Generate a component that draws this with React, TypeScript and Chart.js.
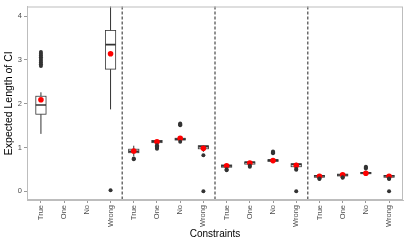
import React, { useEffect, useRef } from "react";
import { Chart, registerables } from "chart.js";

Chart.register(...registerables);

const groupLabels = ["True", "One", "No", "Wrong"];
const categories = [...groupLabels, ...groupLabels, ...groupLabels, ...groupLabels];

const q1 = [1.76, null, null, 2.79, 0.88, 1.11, 1.17, 0.97, 0.55, 0.62, 0.68, 0.56, 0.32, 0.35, 0.4, 0.32];
const medians = [1.97, null, null, 3.35, 0.91, 1.14, 1.19, 1.02, 0.58, 0.66, 0.71, 0.61, 0.35, 0.37, 0.42, 0.35];
const q3 = [2.17, null, null, 3.67, 0.96, 1.16, 1.21, 1.04, 0.6, 0.67, 0.72, 0.63, 0.36, 0.39, 0.43, 0.36];
const whiskerLow = [1.31, null, null, 1.87, 0.8, 1.08, 1.15, 0.9, 0.52, 0.59, 0.65, 0.53, 0.3, 0.33, 0.38, 0.3];
const whiskerHigh = [2.26, null, null, 4.9, 1.04, 1.17, 1.23, 1.05, 0.62, 0.69, 0.75, 0.65, 0.38, 0.41, 0.45, 0.37];
const means = [2.09, null, null, 3.14, 0.92, 1.13, 1.21, 0.98, 0.58, 0.645, 0.7, 0.59, 0.34, 0.375, 0.41, 0.34];
const outliers: number[][] = [
  [2.86, 2.9, 2.94, 2.98, 3.02, 3.06, 3.1, 3.14, 3.18],
  [],
  [],
  [0.02],
  [0.73, 0.75],
  [0.97, 0.99, 1.01, 1.03, 1.05],
  [1.51, 1.53, 1.55, 1.13],
  [0.82, 0.0],
  [0.48, 0.5],
  [0.56, 0.58],
  [0.87, 0.89, 0.91],
  [0.49, 0.51, 0.0],
  [0.28, 0.29],
  [0.31, 0.32],
  [0.52, 0.54, 0.56],
  [0.28, 0.29, 0.0],
];
const yTicks = [0, 1, 2, 3, 4];
const separators = [4.5, 8.5, 12.5];

const boxWidth = 0.44;
const FONT = "'Liberation Sans', Arial, sans-serif";

const boxPlugin = {
  id: "boxes",
  beforeDatasetsDraw(chart: any) {
    const { ctx, chartArea, scales } = chart;
    const x = scales.x;
    const y = scales.y;
    ctx.save();
    ctx.beginPath();
    ctx.rect(chartArea.left, chartArea.top, chartArea.right - chartArea.left, chartArea.bottom - chartArea.top);
    ctx.clip();
    categories.forEach((_, i) => {
      if (q1[i] == null) return;
      const cx = x.getPixelForValue(i + 1);
      const xl = x.getPixelForValue(i + 1 - boxWidth / 2);
      const xr = x.getPixelForValue(i + 1 + boxWidth / 2);
      const yq1 = y.getPixelForValue(q1[i] as number);
      const yq3 = y.getPixelForValue(q3[i] as number);
      const ymed = y.getPixelForValue(medians[i] as number);
      const ylo = y.getPixelForValue(whiskerLow[i] as number);
      const yhi = y.getPixelForValue(whiskerHigh[i] as number);
      ctx.strokeStyle = "#333333";
      ctx.lineWidth = 1;
      ctx.beginPath();
      ctx.moveTo(cx, yq3);
      ctx.lineTo(cx, yhi);
      ctx.moveTo(cx, yq1);
      ctx.lineTo(cx, ylo);
      ctx.stroke();
      ctx.fillStyle = "#ffffff";
      ctx.fillRect(xl, yq3, xr - xl, yq1 - yq3);
      ctx.lineWidth = 0.8;
      ctx.strokeRect(xl, yq3, xr - xl, yq1 - yq3);
      ctx.lineWidth = 1.6;
      ctx.beginPath();
      ctx.moveTo(xl, ymed);
      ctx.lineTo(xr, ymed);
      ctx.stroke();
    });
    ctx.restore();
  },
  afterDatasetsDraw(chart: any) {
    const { ctx, chartArea, scales } = chart;
    ctx.save();
    ctx.strokeStyle = "#222222";
    ctx.lineWidth = 1;
    ctx.setLineDash([3, 2]);
    separators.forEach((s) => {
      const px = scales.x.getPixelForValue(s);
      ctx.beginPath();
      ctx.moveTo(px, chartArea.top);
      ctx.lineTo(px, chartArea.bottom);
      ctx.stroke();
    });
    ctx.setLineDash([]);
    ctx.strokeStyle = "#bdbdbd";
    ctx.lineWidth = 1;
    ctx.strokeRect(chartArea.left + 0.5, chartArea.top + 0.5, chartArea.right - chartArea.left - 1, chartArea.bottom - chartArea.top - 1);
    ctx.restore();
  },
};

export default function App() {
  const ref = useRef<HTMLCanvasElement | null>(null);
  useEffect(() => {
    if (!ref.current) return;
    const outlierPts: { x: number; y: number }[] = [];
    outliers.forEach((arr, i) => arr.forEach((v) => outlierPts.push({ x: i + 1, y: v })));
    const meanPts: { x: number; y: number }[] = [];
    means.forEach((m, i) => {
      if (m != null) meanPts.push({ x: i + 1, y: m });
    });
    const chart = new Chart(ref.current, {
      type: "scatter",
      data: {
        datasets: [
          {
            label: "outliers",
            data: outlierPts,
            pointRadius: 2,
            pointBackgroundColor: "#333333",
            pointBorderWidth: 0,
            borderColor: "#333333",
          },
          {
            label: "means",
            data: meanPts,
            pointRadius: 2.8,
            pointBackgroundColor: "#ff0000",
            pointBorderWidth: 0,
            borderColor: "#ff0000",
          },
        ],
      },
      options: {
        responsive: false,
        animation: false,
        layout: { padding: { top: 3, right: 4, left: 0, bottom: 0 } },
        plugins: { legend: { display: false }, tooltip: { enabled: false } },
        scales: {
          x: {
            type: "linear",
            min: 0.4,
            max: 16.6,
            afterBuildTicks: (axis: any) => {
              axis.ticks = categories.map((_, i) => ({ value: i + 1 }));
            },
            afterFit: (scale: any) => {
              scale.height = 42;
            },
            ticks: {
              autoSkip: false,
              minRotation: 90,
              maxRotation: 90,
              padding: 2,
              color: "#4d4d4d",
              font: { family: FONT, size: 7.5 },
              callback: (v: any) => categories[Math.round(Number(v)) - 1] ?? "",
            },
            grid: { drawOnChartArea: false, drawTicks: true, tickLength: 3, color: "#999999" },
            border: { display: true, color: "#bdbdbd" },
            title: {
              display: true,
              text: "Constraints",
              color: "#000000",
              font: { family: FONT, size: 10 },
              padding: { top: 0, bottom: 2 },
            },
          },
          y: {
            type: "linear",
            min: -0.2,
            max: 4.22,
            afterBuildTicks: (axis: any) => {
              axis.ticks = yTicks.map((v) => ({ value: v }));
            },
            afterFit: (scale: any) => {
              scale.width = 27;
            },
            ticks: {
              padding: 2,
              color: "#4d4d4d",
              font: { family: FONT, size: 7.5 },
            },
            grid: { drawOnChartArea: false, drawTicks: true, tickLength: 3, color: "#999999" },
            border: { display: true, color: "#bdbdbd" },
            title: {
              display: true,
              text: "Expected Length of CI",
              color: "#000000",
              font: { family: FONT, size: 10.5 },
              padding: { top: 3, bottom: 0 },
            },
          },
        },
      },
      plugins: [boxPlugin],
    });
    return () => chart.destroy();
  }, []);
  return (
    <div style={{ position: "absolute", left: 0, top: 0, width: 407, height: 242, background: "#fff" }}>
      <canvas ref={ref} width={407} height={242} />
    </div>
  );
}
